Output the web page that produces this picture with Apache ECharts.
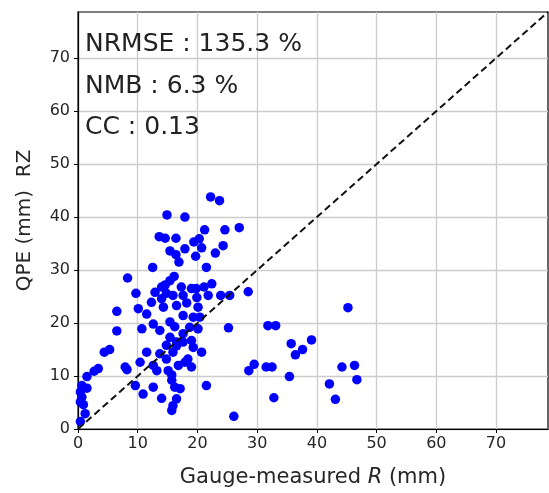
<!DOCTYPE html>
<html>
<head>
<meta charset="utf-8">
<script src="https://cdn.jsdelivr.net/npm/echarts@6/dist/echarts.min.js"></script>
<style>
html,body{margin:0;padding:0;background:#fff;}
#chart{width:549px;height:493px;}
</style>
</head>
<body>
<div id="chart"></div>
<script>
// Gauge-measured R (mm)
const gaugeR = [22.2,23.7,14.9,17.9,21.2,24.6,13.6,14.6,16.4,19.4,20.3,20.7,24.3,17.9,15.4,16.4,16.9,19.7,23.0,12.5,
  21.5,8.3,27.0,22.4,21.1,19.8,21.8,23.9,25.4,28.5,45.2,25.2,31.8,33.1,35.7,39.1,37.6,36.4,29.5,28.6,
  31.5,32.5,35.4,44.2,46.3,46.7,42.1,43.1,32.8,26.1,6.5,6.5,4.4,5.3,7.9,8.2,3.4,2.7,1.5,0.65,
  1.5,0.4,0.65,0.9,1.2,0.4,0.4,16.1,15.4,14.6,14.0,12.9,17.3,19.0,14.8,15.9,17.6,9.7,14.0,19.9,
  12.3,14.3,16.5,18.2,20.1,10.1,11.5,17.6,19.3,20.4,12.6,15.4,16.2,10.7,13.7,18.7,20.1,15.4,17.6,16.5,
  11.5,10.4,13.7,14.8,15.9,17.6,19.0,20.7,12.6,13.2,15.1,15.7,16.8,17.9,18.4,19.0,9.6,10.9,12.6,14.0,
  15.7,16.2,17.1,16.5,15.9,15.7,21.5,16.5,19.3,14.8];
// QPE (mm) RZ
const qpeRZ = [43.8,43.1,40.4,40.0,37.6,37.6,36.3,36.0,36.0,35.3,35.9,34.2,34.6,34.0,33.6,32.9,31.5,32.6,33.2,30.5,
  30.5,28.5,38.0,27.4,26.8,26.5,25.2,25.2,25.2,25.9,22.9,19.1,19.5,19.5,16.1,16.8,15.0,14.0,12.2,11.0,
  11.7,11.7,9.9,11.7,12.0,9.3,8.5,5.6,5.9,2.4,22.2,18.5,14.5,15.0,11.7,11.2,11.4,10.9,9.9,8.2,
  7.7,7.0,6.0,4.6,2.9,1.4,5.1,28.8,28.0,27.2,26.8,25.8,26.8,26.5,25.6,25.2,25.2,25.6,24.6,24.8,
  23.9,23.0,23.3,23.8,23.0,22.7,21.7,21.4,21.1,21.1,19.8,20.2,19.3,18.9,18.6,19.2,18.9,17.3,18.0,16.4,
  14.5,12.6,14.2,15.8,14.5,16.4,16.7,14.5,12.0,11.0,11.0,10.2,12.0,12.6,13.2,11.7,8.2,6.6,7.9,5.8,
  9.2,7.9,7.6,5.7,4.4,3.5,8.2,15.7,15.4,13.2];
const tickValues = [0,10,20,30,40,50,60,70];
const axisMax = 78.7;
const statLines = ['NRMSE : 135.3 %', 'NMB : 6.3 %', 'CC : 0.13'];

const font = 'DejaVu Sans';
const chart = echarts.init(document.getElementById('chart'), null, {renderer:'canvas'});
const pts = gaugeR.map((x,i)=>[x, qpeRZ[i]]);

function axisCommon(){
  return {
    type:'value', min:0, max:axisMax, interval:10,
    axisLine:{show:true, onZero:false, lineStyle:{color:'#000', width:1.2}},
    axisTick:{show:true, length:4, customValues:tickValues, lineStyle:{color:'#000', width:1}},
    axisLabel:{customValues:tickValues, color:'#262626', fontFamily:font, fontSize:16, margin:7},
    splitLine:{show:true, lineStyle:{color:'#cccccc', width:1.3}},
    nameLocation:'middle',
    nameTextStyle:{fontFamily:font, color:'#262626'}
  };
}
const xAxis = axisCommon();
xAxis.name = 'Gauge-measured {i|R} (mm)';
xAxis.nameGap = 38;
xAxis.nameTextStyle = {fontFamily:font, color:'#262626', fontSize:21, rich:{i:{fontFamily:font, fontStyle:'italic', fontSize:21, color:'#262626'}}};
const yAxis = axisCommon();
yAxis.name = 'QPE (mm)  RZ';
yAxis.nameGap = 43;
yAxis.nameTextStyle = {fontFamily:font, color:'#262626', fontSize:20};
yAxis.axisLabel.margin = 8;

chart.setOption({
  animation:false,
  backgroundColor:'#fff',
  grid:{left:78, right:1, top:12, bottom:63, show:true, borderColor:'#000', borderWidth:1.2, backgroundColor:'transparent'},
  xAxis: xAxis,
  yAxis: yAxis,
  graphic: statLines.map((t,i)=>({
    type:'text', left:85, top:32 + i*41.5, z:100,
    style:{text:t, font:'25px "DejaVu Sans"', fill:'#222'}
  })),
  series:[
    {type:'scatter', data:pts, symbol:'circle', symbolSize:9.5, itemStyle:{color:'#0000ff', opacity:1}, z:2},
    {type:'line', data:[[0,0],[axisMax,axisMax]], symbol:'none', z:3,
     lineStyle:{color:'#111', width:2, type:[7,4]}}
  ]
});
</script>
</body>
</html>
